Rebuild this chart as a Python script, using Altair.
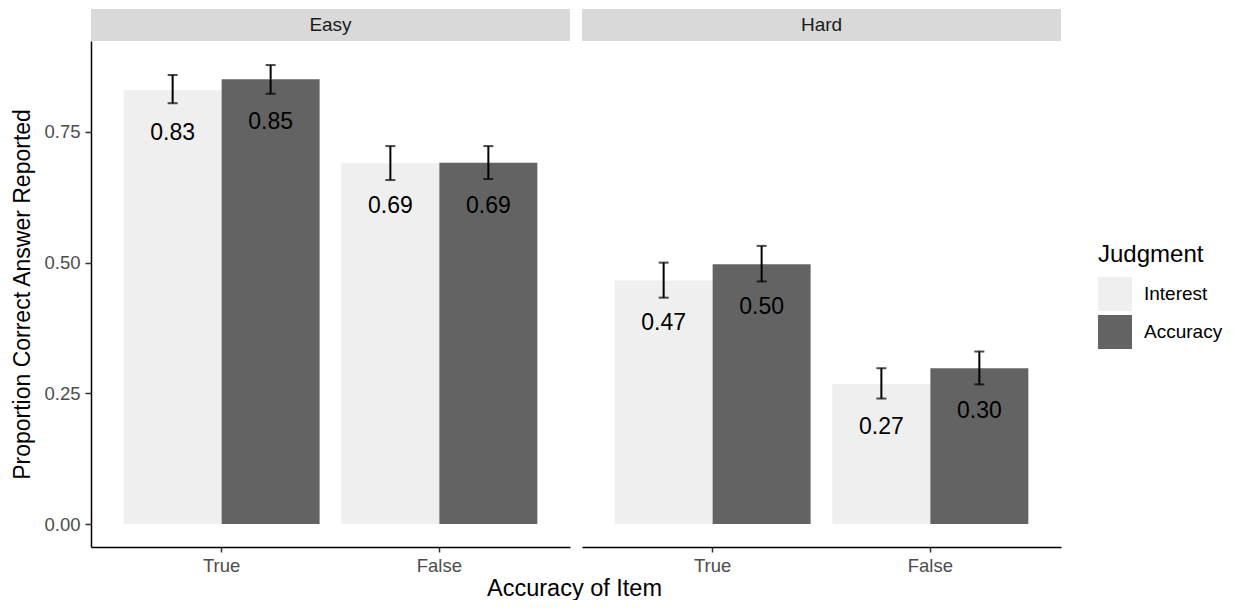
import altair as alt
import pandas as pd

difficulty = ["Easy", "Easy", "Easy", "Easy", "Hard", "Hard", "Hard", "Hard"]
item_accuracy = ["True", "True", "False", "False", "True", "True", "False", "False"]
judgment = ["Interest", "Accuracy", "Interest", "Accuracy", "Interest", "Accuracy", "Interest", "Accuracy"]
proportion = [0.830, 0.851, 0.690, 0.691, 0.466, 0.497, 0.268, 0.298]
ci_low = [0.805, 0.823, 0.658, 0.660, 0.433, 0.464, 0.240, 0.267]
ci_high = [0.859, 0.878, 0.723, 0.723, 0.500, 0.532, 0.298, 0.330]
labels = ["0.83", "0.85", "0.69", "0.69", "0.47", "0.50", "0.27", "0.30"]

df = pd.DataFrame({
    "Difficulty": difficulty,
    "Item": item_accuracy,
    "Judgment": judgment,
    "Proportion": proportion,
    "Low": ci_low,
    "High": ci_high,
    "Label": labels,
})

W = 479
H = 506
FONT = "Liberation Sans"

x_scale = alt.Scale(domain=["True", "False"], paddingInner=0.1, paddingOuter=0.15)
xoff_scale = alt.Scale(domain=["Interest", "Accuracy"], paddingInner=0, paddingOuter=0)
y_scale = alt.Scale(domain=[-0.044, 0.924], nice=False, zero=False)
fill_scale = alt.Scale(domain=["Interest", "Accuracy"], range=["#efefef", "#636363"])


def panel(diff, first):
    base = alt.Chart(df).transform_filter(alt.datum.Difficulty == diff)
    x_axis = alt.Axis(title=None, labelAngle=0, labelFontSize=18.5, labelColor="#4d4d4d",
                      labelPadding=4, tickSize=5, tickColor="#333333", tickWidth=1.5,
                      domainColor="black", domainWidth=1.5, grid=False)
    if first:
        y_axis = alt.Axis(title="Proportion Correct Answer Reported", values=[0, 0.25, 0.5, 0.75],
                          format=".2f", titleFontSize=23, titleFontWeight="normal",
                          titleColor="black", titlePadding=9, labelFontSize=18.5,
                          labelColor="#4d4d4d", labelPadding=5, tickSize=6,
                          tickColor="#333333", tickWidth=1.5, domainColor="black",
                          domainWidth=1.5, grid=False)
    else:
        y_axis = None

    x = alt.X("Item:N", scale=x_scale, axis=x_axis, sort=["True", "False"])
    xo = alt.XOffset("Judgment:N", scale=xoff_scale, sort=["Interest", "Accuracy"])

    bars = base.mark_bar().encode(
        x=x, xOffset=xo,
        y=alt.Y("Proportion:Q", scale=y_scale, axis=y_axis),
        fill=alt.Fill("Judgment:N", scale=fill_scale, sort=["Interest", "Accuracy"],
                      legend=alt.Legend(title="Judgment", titleFontSize=24,
                                        titleFontWeight="normal", titleColor="black",
                                        titlePadding=10, padding=0,
                                        labelFontSize=19, labelColor="black",
                                        symbolType="square", symbolSize=1156,
                                        symbolStrokeWidth=0, symbolOpacity=1,
                                        rowPadding=4, labelOffset=12,
                                        orient="none", legendX=1007, legendY=202)),
    )
    rule = base.mark_rule(color="black", strokeWidth=2).encode(
        x=x, xOffset=xo, y=alt.Y("Low:Q", scale=y_scale, axis=y_axis), y2="High:Q")
    cap_lo = base.mark_tick(color="black", thickness=2, size=10, orient="horizontal").encode(
        x=x, xOffset=xo, y=alt.Y("Low:Q", scale=y_scale, axis=y_axis))
    cap_hi = base.mark_tick(color="black", thickness=2, size=10, orient="horizontal").encode(
        x=x, xOffset=xo, y=alt.Y("High:Q", scale=y_scale, axis=y_axis))
    text = base.mark_text(fontSize=23, color="black", baseline="middle", dy=43, font=FONT).encode(
        x=x, xOffset=xo, y=alt.Y("Proportion:Q", scale=y_scale, axis=y_axis), text="Label:N")

    strip_df = pd.DataFrame({"label": [diff]})
    strip = alt.Chart(strip_df).mark_rect(color="#d9d9d9").encode(
        x=alt.value(0), x2=alt.value(W), y=alt.value(-32), y2=alt.value(0))
    strip_text = alt.Chart(strip_df).mark_text(fontSize=19, color="#1a1a1a", font=FONT,
                                               baseline="middle").encode(
        x=alt.value(W / 2), y=alt.value(-16), text="label:N")

    return alt.layer(strip, strip_text, bars, rule, cap_lo, cap_hi, text).properties(
        width=W, height=H)


chart = alt.hconcat(panel("Easy", True), panel("Hard", False), spacing=12).properties(
    padding={"left": 3, "top": 1, "right": 0, "bottom": 0},
    title=alt.TitleParams("Accuracy of Item", orient="bottom", anchor="middle",
                          fontSize=23.5, fontWeight="normal", color="black", offset=2, dx=-43),
).configure(
    font=FONT,
    view=alt.ViewConfig(stroke="transparent", strokeWidth=0),
)

chart.save("out.html", embed_options={"renderer": "svg", "actions": False})
